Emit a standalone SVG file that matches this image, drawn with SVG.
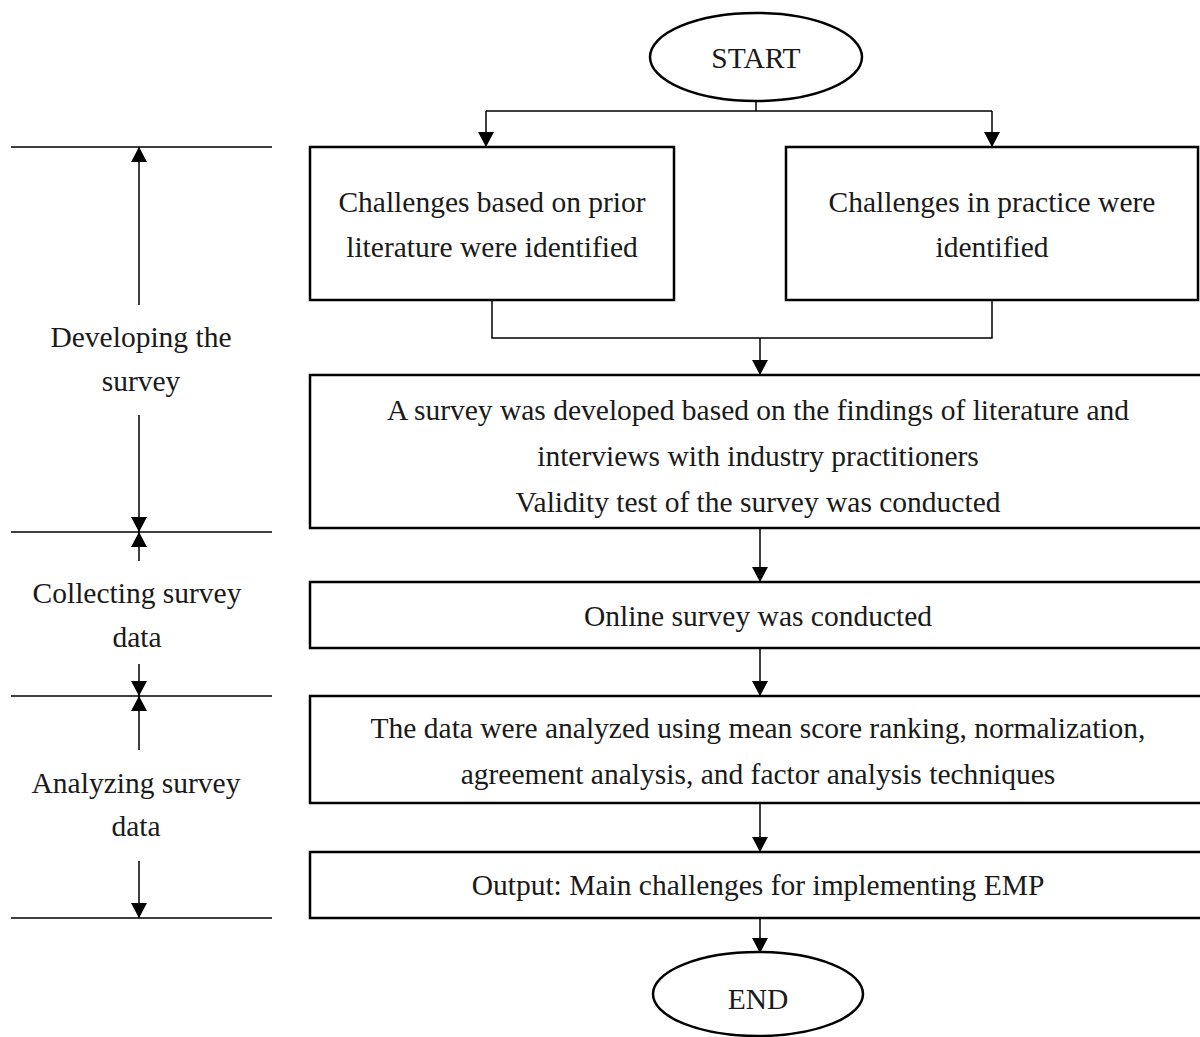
<svg xmlns="http://www.w3.org/2000/svg" width="1200" height="1037" viewBox="0 0 1200 1037">
<style>
.box{fill:#fff;stroke:#000;stroke-width:2.5}
.ln{fill:none;stroke:#000;stroke-width:1.5}
.t{font-family:"Liberation Serif","Times New Roman",serif;font-size:29.5px;fill:#1a1a1a;text-anchor:middle}
</style>
<defs>
<marker id="ah" viewBox="0 0 15 16" refX="15" refY="8" markerWidth="15" markerHeight="16" markerUnits="userSpaceOnUse" orient="auto">
<path d="M0,0 L15,8 L0,16 Z" fill="#000"/>
</marker>
</defs>
<g id="connectors">
<path class="ln" d="M756,101 V111 M486,111 H992"/>
<path class="ln" d="M486,111 V147" marker-end="url(#ah)"/>
<path class="ln" d="M992,111 V147" marker-end="url(#ah)"/>
<path class="ln" d="M492,300 V338 H992 V300"/>
<path class="ln" d="M760,338 V375" marker-end="url(#ah)"/>
<path class="ln" d="M760,528 V582" marker-end="url(#ah)"/>
<path class="ln" d="M760,648 V696" marker-end="url(#ah)"/>
<path class="ln" d="M760,803 V852" marker-end="url(#ah)"/>
<path class="ln" d="M760,918 V953" marker-end="url(#ah)"/>
</g>
<g id="phases">
<path class="ln" d="M11,147 H272 M11,532 H272 M11,696 H272 M11,918 H272"/>
<path class="ln" d="M139,305 V147" marker-end="url(#ah)"/>
<path class="ln" d="M139,415 V532" marker-end="url(#ah)"/>
<path class="ln" d="M139,561 V532" marker-end="url(#ah)"/>
<path class="ln" d="M139,664 V696" marker-end="url(#ah)"/>
<path class="ln" d="M139,750 V696" marker-end="url(#ah)"/>
<path class="ln" d="M139,861 V918" marker-end="url(#ah)"/>
<text class="t" x="141" y="347">Developing the</text>
<text class="t" x="141" y="391">survey</text>
<text class="t" x="137" y="603">Collecting survey</text>
<text class="t" x="137" y="647">data</text>
<text class="t" x="136" y="793">Analyzing survey</text>
<text class="t" x="136" y="836">data</text>
</g>
<g id="start">
<ellipse class="box" cx="756" cy="57" rx="106" ry="44"/>
<text class="t" x="756" y="68">START</text>
</g>
<g id="box1">
<rect class="box" x="310" y="147" width="364" height="153"/>
<text class="t" x="492" y="212">Challenges based on prior</text>
<text class="t" x="492" y="257">literature were identified</text>
</g>
<g id="box2">
<rect class="box" x="786" y="147" width="412" height="153"/>
<text class="t" x="992" y="212">Challenges in practice were</text>
<text class="t" x="992" y="257">identified</text>
</g>
<g id="box3">
<rect class="box" x="310" y="375" width="900" height="153"/>
<text class="t" x="758" y="420">A survey was developed based on the findings of literature and</text>
<text class="t" x="758" y="466">interviews with industry practitioners</text>
<text class="t" x="758" y="512">Validity test of the survey was conducted</text>
</g>
<g id="box4">
<rect class="box" x="310" y="582" width="900" height="66"/>
<text class="t" x="758" y="626">Online survey was conducted</text>
</g>
<g id="box5">
<rect class="box" x="310" y="696" width="900" height="107"/>
<text class="t" x="758" y="738">The data were analyzed using mean score ranking, normalization,</text>
<text class="t" x="758" y="784">agreement analysis, and factor analysis techniques</text>
</g>
<g id="box6">
<rect class="box" x="310" y="852" width="900" height="66"/>
<text class="t" x="758" y="895">Output: Main challenges for implementing EMP</text>
</g>
<g id="end">
<ellipse class="box" cx="758" cy="994" rx="105" ry="42"/>
<text class="t" x="758" y="1009">END</text>
</g>
</svg>
